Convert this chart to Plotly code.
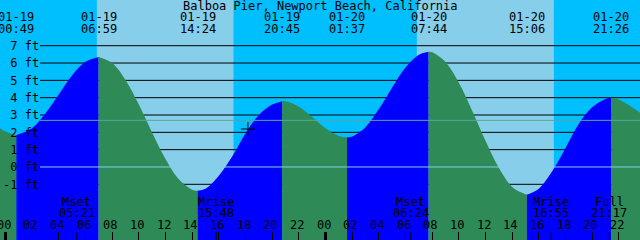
import plotly.graph_objects as go

# ---------------- data ----------------
TITLE = "Balboa Pier, Newport Beach, California"

# hourly tide heights (ft); hour 0 = 01-19 00:00
SAMPLE_HOURS = list(range(-1, 49))
SAMPLE_FT = [2.55, 2.05, 1.87, 2.25, 3.10, 4.20, 5.30, 6.07, 6.35, 6.00,
             5.02, 3.60, 1.98, 0.46, -0.71, -1.31, -1.25, -0.50, 0.60, 1.95,
             3.00, 3.60, 3.79, 3.48, 2.88, 2.23, 1.79, 1.76, 2.30, 3.34,
             4.59, 5.74, 6.48, 6.62, 6.06, 4.86, 3.25, 1.51, -0.05, -1.15,
             -1.59, -1.25, -0.25, 1.10, 2.50, 3.45, 3.93, 3.90, 3.45, 2.90]

# high / low tide events
EXTREME_DATES = ["01-19", "01-19", "01-19", "01-19", "01-20", "01-20", "01-20", "01-20"]
EXTREME_TIMES = ["00:49", "06:59", "14:24", "20:45", "01:37", "07:44", "15:06", "21:26"]
EXTREME_FT = [1.85, 6.35, -1.37, 3.80, 1.71, 6.65, -1.60, 4.00]

# sun (day band) and moon events
SUNRISE = ["01-19 06:51", "01-20 06:51"]
SUNSET = ["01-19 17:07", "01-20 17:08"]
MOON_DATES = ["01-19", "01-19", "01-20", "01-20", "01-20"]
MOON_TIMES = ["05:21", "15:48", "06:24", "16:55", "21:17"]
MOON_NAMES = ["Mset", "Mrise", "Mset", "Mrise", "Full"]

# "now" mark
MARK_TIME = "01-19 18:11"
MARK_FT = 2.19

# axis ticks
FT_TICKS = [7, 6, 5, 4, 3, 2, 1, 0, -1]
FT_LABELS = ["\u00a07 ft", "\u00a06 ft", "\u00a05 ft", "\u00a04 ft", "\u00a03 ft",
             "\u00a02 ft", "\u00a01 ft", "\u00a00 ft", "-1 ft"]
HOUR_TICKS = list(range(0, 50, 2))
HOUR_LABELS = ["00", "02", "04", "06", "08", "10", "12", "14", "16", "18", "20", "22",
               "00", "02", "04", "06", "08", "10", "12", "14", "16", "18", "20", "22", "00"]
MIDNIGHTS = [0, 24, 48]
MEAN_LEVEL = 2.69

# ---------------- styles ----------------
NIGHT = "#00BFFF"
DAY = "#87CEEB"
FLOOD = "#0000FF"
EBB = "#2E8B57"
DATUM_COLOR = "#87CEEB"
MSL_COLOR = "#56A898"
FONT = "DejaVu Sans Mono"
X_RANGE = [-0.4125, 47.5875]
Y_RANGE = [-4.215, 9.638]


def hrs(date, time):
    day = int(date.split("-")[1]) - 19
    hh, mm = time.split(":")
    return day * 24 + int(hh) + int(mm) / 60.0


def hrs_dt(s):
    d, t = s.split(" ")
    return hrs(d, t)


ext_h = [hrs(d, t) for d, t in zip(EXTREME_DATES, EXTREME_TIMES)]

pts = [(h, v) for h, v in zip(SAMPLE_HOURS, SAMPLE_FT)
       if min(abs(h - e) for e in ext_h) > 0.2]
pts += list(zip(ext_h, EXTREME_FT))
pts.sort()

bounds = [(SAMPLE_HOURS[0], SAMPLE_FT[0])] + list(zip(ext_h, EXTREME_FT)) + \
         [(SAMPLE_HOURS[-1], SAMPLE_FT[-1])]

fig = go.Figure()
for (a, va), (b, vb) in zip(bounds[:-1], bounds[1:]):
    seg = [(h, v) for h, v in pts if a <= h <= b]
    sx = [p[0] for p in seg]
    sy = [p[1] for p in seg]
    col = FLOOD if vb > va else EBB
    fig.add_trace(go.Scatter(x=sx, y=[Y_RANGE[0] - 1] * len(sx), mode="lines",
                             line=dict(width=0), hoverinfo="skip", showlegend=False))
    fig.add_trace(go.Scatter(x=sx, y=sy, mode="lines", fill="tonexty",
                             fillcolor=col, line=dict(width=0, shape="spline", color=col),
                             hoverinfo="skip", showlegend=False))

fig.add_trace(go.Scatter(x=[hrs_dt(MARK_TIME)], y=[MARK_FT], mode="markers",
                         marker=dict(symbol="cross-thin", size=10,
                                     line=dict(width=1, color="black")),
                         hoverinfo="skip", showlegend=False))

shapes = []
# day / night bands
edges = [X_RANGE[0] - 1]
for r, s in zip(SUNRISE, SUNSET):
    edges += [hrs_dt(r), hrs_dt(s)]
edges.append(X_RANGE[1] + 1)
for i in range(len(edges) - 1):
    shapes.append(dict(type="rect", xref="x", yref="paper", x0=edges[i], x1=edges[i + 1],
                       y0=0, y1=1, fillcolor=NIGHT if i % 2 == 0 else DAY,
                       line=dict(width=0), layer="below"))
# grid lines
for v in FT_TICKS:
    if v == 0:
        continue
    shapes.append(dict(type="line", xref="paper", yref="y", x0=40 / 640, x1=1, y0=v, y1=v,
                       line=dict(color="black", width=1), layer="below"))
shapes.append(dict(type="line", xref="paper", yref="y", x0=40 / 640, x1=1, y0=0, y1=0,
                   line=dict(color=DATUM_COLOR, width=1), layer="above"))
shapes.append(dict(type="line", xref="paper", yref="y", x0=40 / 640, x1=1,
                   y0=MEAN_LEVEL, y1=MEAN_LEVEL,
                   line=dict(color=MSL_COLOR, width=1), layer="above"))
# midnight and moon event ticks
for m in MIDNIGHTS:
    shapes.append(dict(type="line", xref="x", yref="paper", x0=m, x1=m, y0=0, y1=8 / 240,
                       line=dict(color="black", width=3), layer="above"))
moon_h = [hrs(d, t) for d, t in zip(MOON_DATES, MOON_TIMES)]
for m in moon_h:
    shapes.append(dict(type="line", xref="x", yref="paper", x0=m, x1=m, y0=0, y1=8 / 240,
                       line=dict(color="black", width=1), layer="above"))

ann = []
fnt = dict(family=FONT, size=12, color="black")
ann.append(dict(text=TITLE, x=0.5, y=1 - 6 / 240, xref="paper", yref="paper",
                showarrow=False, font=fnt, xanchor="center", yanchor="middle"))
for h, d, t in zip(ext_h, EXTREME_DATES, EXTREME_TIMES):
    ann.append(dict(text=d, x=h, y=1 - 17.5 / 240, xref="x", yref="paper",
                    showarrow=False, font=fnt, xanchor="center", yanchor="middle"))
    ann.append(dict(text=t, x=h, y=1 - 28.5 / 240, xref="x", yref="paper",
                    showarrow=False, font=fnt, xanchor="center", yanchor="middle"))
for h, n, t in zip(moon_h, MOON_NAMES, MOON_TIMES):
    ann.append(dict(text=n, x=h, y=1 - 202 / 240, xref="x", yref="paper",
                    showarrow=False, font=fnt, xanchor="center", yanchor="middle"))
    ann.append(dict(text=t, x=h, y=1 - 212.5 / 240, xref="x", yref="paper",
                    showarrow=False, font=fnt, xanchor="center", yanchor="middle"))
for h, lab in zip(HOUR_TICKS, HOUR_LABELS):
    ann.append(dict(text=lab, x=h, y=1 - 225 / 240, xref="x", yref="paper", xshift=-2,
                    showarrow=False, font=fnt, xanchor="center", yanchor="middle"))

fig.update_layout(
    width=640, height=240, autosize=False,
    margin=dict(l=0, r=0, t=0, b=0, pad=0),
    paper_bgcolor=NIGHT, plot_bgcolor=NIGHT,
    shapes=shapes, annotations=ann, showlegend=False,
    xaxis=dict(range=X_RANGE, showgrid=False, zeroline=False, showline=False,
               tickvals=HOUR_TICKS, showticklabels=False, ticks="inside", ticklen=8,
               tickwidth=1, tickcolor="black", fixedrange=True),
    yaxis=dict(range=Y_RANGE, showgrid=False, zeroline=False, showline=False,
               tickvals=FT_TICKS, ticktext=FT_LABELS, ticks="",
               ticklabelposition="inside", tickfont=fnt, fixedrange=True),
)

fig.write_html("out.html")
